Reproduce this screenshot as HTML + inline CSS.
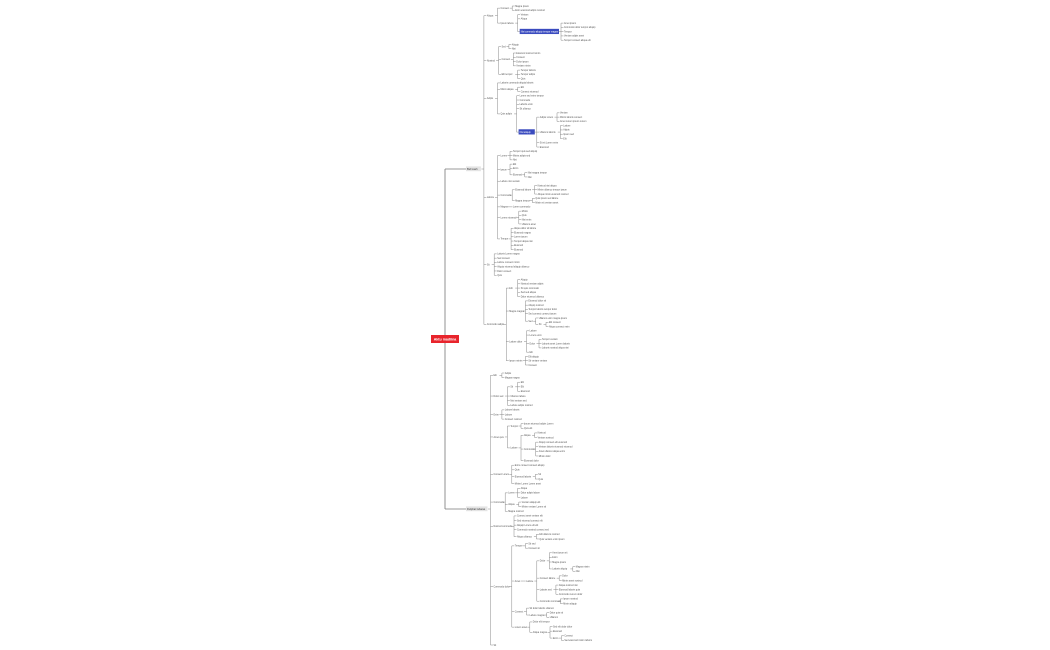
<!DOCTYPE html>
<html><head><meta charset="utf-8"><style>
html,body{margin:0;padding:0;background:#fff;width:1050px;height:650px;overflow:hidden}
svg{display:block}
text{font-family:"Liberation Sans",sans-serif;font-size:2.3px;fill:#555}
</style></head><body>
<svg id="s" width="1050" height="650" viewBox="0 0 1050 650" xmlns="http://www.w3.org/2000/svg">
<line x1="445" y1="169" x2="445" y2="509" stroke="#777" stroke-width="0.8"/>
<rect x="431" y="335" width="28" height="8" fill="#e8242c"/>
<text x="445" y="340.3" text-anchor="middle" style="fill:#fff;font-size:3.6px;font-weight:bold">Aktu madiina</text>
</svg>
<script>
var seed=7;function rnd(){seed=(seed*9301+49297)%233280;return seed/233280;}
var W=["Lorem","ipsum","dolor","sit","amet","consect","adipis","elit","sed","eiusmod","tempor","labore","magna","aliqua","enim","minim","veniam","quis","nostrud","ullamco","laboris","nisi","aliquip","commodo"];
function lab(leaf){var n=1+Math.floor(rnd()*(leaf?4:2)),a=[];for(var i=0;i<n;i++)a.push(W[Math.floor(rnd()*W.length)]);var s=a.join(" ");return s.charAt(0).toUpperCase()+s.slice(1);}
function L(n){var a=[];for(var i=0;i<n;i++)a.push(0);return a;}
function N(){return {c:Array.prototype.slice.call(arguments)};}
function B(){var o={c:Array.prototype.slice.call(arguments),blue:1};return o;}
var b1=N(
 N(N.apply(null,L(2)),N(0,0,B.apply(null,L(5)))),
 N(N.apply(null,L(2)),N.apply(null,L(4)),N.apply(null,L(3))),
 N(0,N.apply(null,L(2)),N(0,0,0,0,B(N.apply(null,L(3)),N.apply(null,L(4)),0,0))),
 N(N.apply(null,L(3)),N(0,0,N(0,0)),0,N(N.apply(null,L(3)),N(0,0)),N(0),N.apply(null,L(4)),N.apply(null,L(6))),
 N.apply(null,L(6)),
 N(N.apply(null,L(5)),N(0,0,0,0,N(0,N(0,0))),N(0,0,N(0,0,0),0),N(0,0,0))
);
var b2=N(
 N(0,0),
 N(N(0,0,0),0,0,0),
 N(0,0,0),
 N(N(0,0),N(N(0,0),N(0,0,0,0),0)),
 N(0,0,N(0,0),0),
 N(N(0,0,0),N(0,0),0),
 N(0,0,0,0,N(0,0)),
 N(N(0,0),N(N(N(0,0,0,N(0,0)),N(0,0),N(0,0,0),N(0,0))),N(0,N(0,0)),N(0,N(0,0,N(0,0)))),
 0
);
var svg=document.getElementById("s"),NS="http://www.w3.org/2000/svg";
function el(t,a){var e=document.createElementNS(NS,t);for(var k in a)e.setAttribute(k,a[k]);svg.appendChild(e);return e;}
function count(n){if(n===0||!n.c||!n.c.length)return 1;var s=0;n.c.forEach(function(c){s+=count(c)});return s;}
var cur,sp;
function place(n){if(n===0||!n.c.length){var y=cur;cur+=sp;return y;}var ys=n.c.map(place);n.ys=ys;return (ys[0]+ys[ys.length-1])/2;}
var bl=["Nisi commodo aliquip tempor magna","Nisi aliquip"];var bi=0;
function draw(n,x,y,label,box){
 var leaf=(n===0||!n.c.length);
 var t=label||(box==="blue"?bl[bi++]:lab(leaf)),w=t.length*1.1+1;
 if(box==="blue"){el("rect",{x:x-1,y:y-2.8,width:w+2,height:5.2,fill:"#3a4bbf"});var e=el("text",{x:x,y:y+0.8});e.style.fill="#fff";e.textContent=t;}
 else if(box==="gray"){el("rect",{x:x-1,y:y-2.6,width:w+4,height:4.8,fill:"#e4e4e4"});var e=el("text",{x:x,y:y+0.8});e.style.fill="#333";e.style.fontSize="2.6px";e.textContent=t;w+=3;}
 else{var e=el("text",{x:x,y:y+0.8});e.textContent=t;}
 if(leaf)return;
 var x0=x+w+0.5,bx=x0+2.5,cx=bx+2.5;
 el("line",{x1:x0,y1:y,x2:bx,y2:y,stroke:"#888","stroke-width":0.5});
 el("line",{x1:bx,y1:n.ys[0],x2:bx,y2:n.ys[n.ys.length-1],stroke:"#888","stroke-width":0.5});
 n.c.forEach(function(c,i){var cy=n.ys[i];el("line",{x1:bx,y1:cy,x2:cx,y2:cy,stroke:"#888","stroke-width":0.5});
  draw(c,cx+0.5,cy,null,(c&&c.blue)?"blue":null);});
}
function branch(n,name,y0,y1,ly){
 cur=y0;sp=(y1-y0)/(count(n)-1);place(n);
 el("line",{x1:445,y1:ly,x2:466,y2:ly,stroke:"#777","stroke-width":0.8});
 draw(n,467,ly,name,"gray");
}
branch(b1,"Bull cash",6,365,169);
branch(b2,"Dulphat Ixdaras",373,645,509);
</script>
</body></html>
